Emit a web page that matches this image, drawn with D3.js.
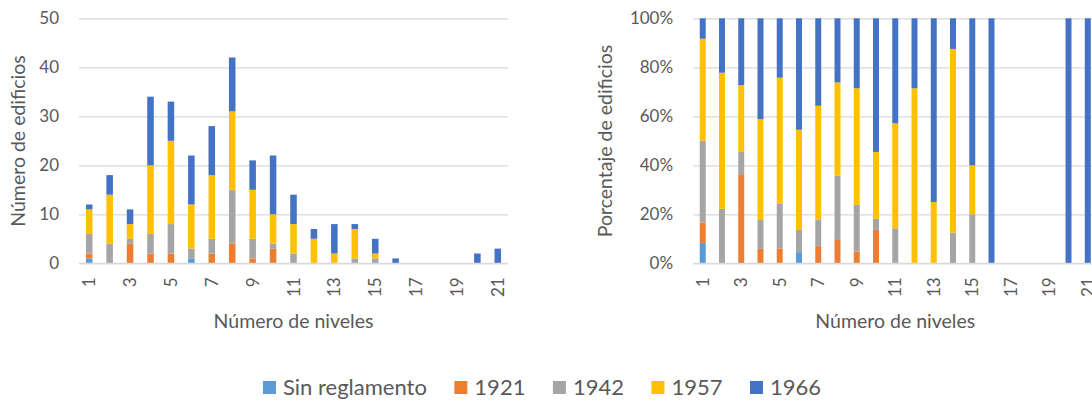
<!DOCTYPE html>
<html><head><meta charset="utf-8">
<script src="https://cdn.jsdelivr.net/npm/d3@7/dist/d3.min.js"></script>
<style>
body{margin:0;background:#fff}
svg{display:block}
text{font-family:Lato,"Open Sans",sans-serif;fill:#595959}
</style>
</head><body>
<svg id="c" width="1092" height="402"></svg>
<script>
// ---- data ----
const levels = ["1","2","3","4","5","6","7","8","9","10","11","12","13","14","15","16","17","18","19","20","21"];
const seriesNames = ["Sin reglamento","1921","1942","1957","1966"];
const sinReglamento = [1,0,0,0,0,1,0,0,0,0,0,0,0,0,0,0,0,0,0,0,0];
const reg1921 = [1,0,4,2,2,0,2,4,1,3,0,0,0,0,0,0,0,0,0,0,0];
const reg1942 = [4,4,1,4,6,2,3,11,4,1,2,0,0,1,1,0,0,0,0,0,0];
const reg1957 = [5,10,3,14,17,9,13,16,10,6,6,5,2,6,1,0,0,0,0,0,0];
const reg1966 = [1,4,3,14,8,10,10,11,6,12,6,2,6,1,3,1,0,0,0,2,3];
const countTicks = [0,10,20,30,40,50];
const pctTicks = [0,0.2,0.4,0.6,0.8,1];
const xTickLabels = ["1","3","5","7","9","11","13","15","17","19","21"];
const colors = ["#5B9BD5","#ED7D31","#A5A5A5","#FFC000","#4472C4"];
const yTitleLeft = "Número de edificios";
const yTitleRight = "Porcentaje de edificios";
const xTitle = "Número de niveles";

const seriesValues = [sinReglamento, reg1921, reg1942, reg1957, reg1966];
const rows = levels.map((l, i) => {
  const r = {level: l};
  seriesNames.forEach((s, k) => r[s] = seriesValues[k][i]);
  return r;
});
const color = d3.scaleOrdinal().domain(seriesNames).range(colors);
const svg = d3.select("#c");

function panel(o) {
  const g = svg.append("g");
  const x = d3.scaleBand().domain(levels).range([o.x0, o.x1])
    .paddingInner(o.pad).paddingOuter(o.pad / 2);
  const y = d3.scaleLinear().domain(o.domain).range([263.3, 18.3]);

  // gridlines
  const grid = g.append("g").attr("transform", `translate(${o.x0},0)`)
    .call(d3.axisLeft(y).tickValues(o.ticks).tickSize(-(o.x1 - o.x0)).tickFormat(""));
  grid.select(".domain").remove();
  grid.selectAll("line").attr("stroke", "#D9D9D9").attr("stroke-width", 1.2);

  // tick labels
  const ya = g.append("g").attr("transform", `translate(${o.x0},0)`)
    .call(d3.axisLeft(y).tickValues(o.ticks).tickSize(0).tickPadding(20).tickFormat(o.fmt));
  ya.select(".domain").remove();
  ya.selectAll("text").style("font-size", "17px").attr("fill", "#595959")
    .style("font-family", 'Lato,"Open Sans",sans-serif');

  // bars
  let stack = d3.stack().keys(seriesNames);
  if (o.expand) stack = stack.offset(d3.stackOffsetExpand);
  const st = stack(rows);
  g.append("g").selectAll("g").data(st).join("g")
    .attr("fill", d => color(d.key))
    .selectAll("rect").data(d => d.filter(e => e[1] - e[0] > 0)).join("rect")
    .attr("x", d => x(d.data.level))
    .attr("width", x.bandwidth())
    .attr("y", d => y(d[1]))
    .attr("height", d => y(d[0]) - y(d[1]));

  // x axis
  const xa = g.append("g").attr("transform", `translate(0,263.3)`)
    .call(d3.axisBottom(x).tickValues(xTickLabels).tickSize(0));
  xa.select(".domain").attr("stroke", "#D9D9D9").attr("stroke-width", 1.2)
    .attr("d", `M${o.x0},0H${o.x1}`);
  xa.selectAll("text")
    .attr("transform", "rotate(-90)")
    .attr("text-anchor", "end")
    .attr("x", -14).attr("y", 0).attr("dy", "0.36em")
    .style("font-size", "17px").attr("fill", "#595959")
    .style("font-family", 'Lato,"Open Sans",sans-serif');

  // titles
  g.append("text").attr("x", (o.x0 + o.x1) / 2).attr("y", 328)
    .attr("text-anchor", "middle").style("font-size", "19.5px").text(xTitle);
  g.append("text").attr("transform", `translate(${o.ytx},141) rotate(-90)`)
    .attr("text-anchor", "middle").attr("dy", "0.36em").style("font-size", "19.5px").text(o.ytitle);
}

panel({x0: 79, x1: 508, pad: 0.68, domain: [0, 50], ticks: countTicks,
  fmt: d3.format("d"), expand: false, ytitle: yTitleLeft, ytx: 18});
panel({x0: 693.1, x1: 1097.4, pad: 0.69, domain: [0, 1], ticks: pctTicks,
  fmt: d3.format(".0%"), expand: true, ytitle: yTitleRight, ytx: 605});

// legend
const leg = svg.append("g");
let cx = 0;
const items = seriesNames.map(s => {
  const it = leg.append("g");
  it.append("rect").attr("x", 0).attr("y", 381).attr("width", 13).attr("height", 13).attr("fill", color(s));
  const t = it.append("text").attr("x", 20).attr("y", 395).style("font-size", "22px").text(s);
  const w = 20 + t.node().getComputedTextLength();
  it.attr("transform", `translate(${cx},0)`);
  cx += w + 27.5;
  return it;
});
const total = cx - 27.5;
leg.attr("transform", `translate(${542 - total / 2},0)`);
</script>
</body></html>
